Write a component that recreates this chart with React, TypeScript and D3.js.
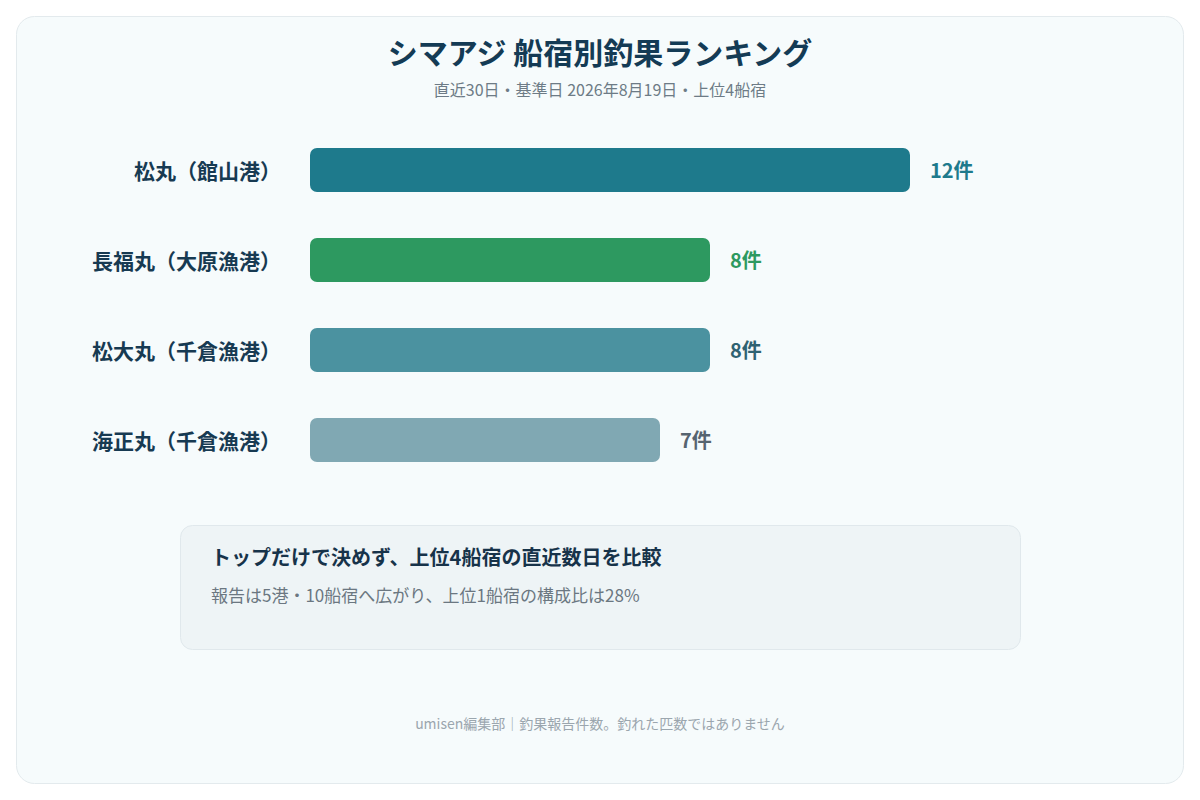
import { useEffect, useRef } from 'react';
import * as d3 from 'd3';

const boats = ['松丸（館山港）', '長福丸（大原漁港）', '松大丸（千倉漁港）', '海正丸（千倉漁港）'];
const counts = [12, 8, 8, 7];
const barColors = ['#1e7a8c', '#2d9960', '#4b92a0', '#80a8b3'];
const labelColors = ['#1e7a8c', '#2d9960', '#2f6272', '#566470'];

const title = 'シマアジ 船宿別釣果ランキング';
const subtitle = '直近30日・基準日 2026年8月19日・上位4船宿';
const noteHead = 'トップだけで決めず、上位4船宿の直近数日を比較';
const noteBody = '報告は5港・10船宿へ広がり、上位1船宿の構成比は28%';
const footer = 'umisen編集部｜釣果報告件数。釣れた匹数ではありません';

const FONT = '"Noto Sans CJK JP", "Noto Sans", sans-serif';

const App = () => {
  const svgRef = useRef<SVGSVGElement>(null);

  useEffect(() => {
    if (!svgRef.current) return;
    const svg = d3.select(svgRef.current);
    svg.selectAll('*').remove();

    const width = 1200;
    const height = 800;

    // Card
    svg.append('rect')
      .attr('x', 16.5).attr('y', 16.5)
      .attr('width', width - 33).attr('height', height - 33)
      .attr('rx', 18)
      .attr('fill', '#f6fbfc')
      .attr('stroke', '#e3eaed');

    svg.append('text')
      .attr('x', width / 2).attr('y', 64)
      .attr('text-anchor', 'middle')
      .style('font-family', FONT)
      .style('font-size', '30px')
      .style('font-weight', 700)
      .style('fill', '#143b55')
      .text(title);

    svg.append('text')
      .attr('x', width / 2).attr('y', 96)
      .attr('text-anchor', 'middle')
      .style('font-family', FONT)
      .style('font-size', '16px')
      .style('fill', '#6d7b86')
      .text(subtitle);

    // Scales
    const x = d3.scaleLinear().domain([0, 12]).range([310, 910]);
    const y = d3.scaleBand()
      .domain(boats)
      .range([148 - 23, 148 - 23 + 90 * boats.length])
      .paddingInner(46 / 90)
      .paddingOuter(23 / 90);

    const rows = boats.map((b, i) => ({ boat: b, count: counts[i], i }));

    svg.selectAll('.bar')
      .data(rows)
      .join('rect')
      .attr('class', 'bar')
      .attr('x', x(0))
      .attr('y', d => y(d.boat) || 0)
      .attr('width', d => x(d.count) - x(0))
      .attr('height', y.bandwidth())
      .attr('rx', 7)
      .attr('fill', d => barColors[d.i]);

    svg.selectAll('.name')
      .data(rows)
      .join('text')
      .attr('class', 'name')
      .attr('x', 281)
      .attr('y', d => (y(d.boat) || 0) + y.bandwidth() / 2)
      .attr('dy', '0.42em')
      .attr('text-anchor', 'end')
      .style('font-family', FONT)
      .style('font-size', '21px')
      .style('font-weight', 700)
      .style('fill', '#173a52')
      .text(d => d.boat);

    svg.selectAll('.value')
      .data(rows)
      .join('text')
      .attr('class', 'value')
      .attr('x', d => x(d.count) + 20)
      .attr('y', d => (y(d.boat) || 0) + y.bandwidth() / 2)
      .attr('dy', '0.42em')
      .style('font-family', FONT)
      .style('font-size', '20px')
      .style('font-weight', 700)
      .style('fill', d => labelColors[d.i])
      .text(d => `${d.count}件`);

    // Note box
    svg.append('rect')
      .attr('x', 180.5).attr('y', 525.5)
      .attr('width', 840).attr('height', 124)
      .attr('rx', 12)
      .attr('fill', '#eef4f6')
      .attr('stroke', '#e0e8ec');

    svg.append('text')
      .attr('x', 211).attr('y', 565)
      .style('font-family', FONT)
      .style('font-size', '20px')
      .style('font-weight', 700)
      .style('fill', '#17334a')
      .text(noteHead);

    svg.append('text')
      .attr('x', 211).attr('y', 602)
      .style('font-family', FONT)
      .style('font-size', '17px')
      .style('fill', '#6b7781')
      .text(noteBody);

    svg.append('text')
      .attr('x', width / 2).attr('y', 729)
      .attr('text-anchor', 'middle')
      .style('font-family', FONT)
      .style('font-size', '14px')
      .style('fill', '#9ba6ae')
      .text(footer);
  }, []);

  return (
    <svg
      ref={svgRef}
      width={1200}
      height={800}
      style={{ position: 'absolute', top: 0, left: 0, display: 'block', background: '#ffffff' }}
    />
  );
};

export default App;
